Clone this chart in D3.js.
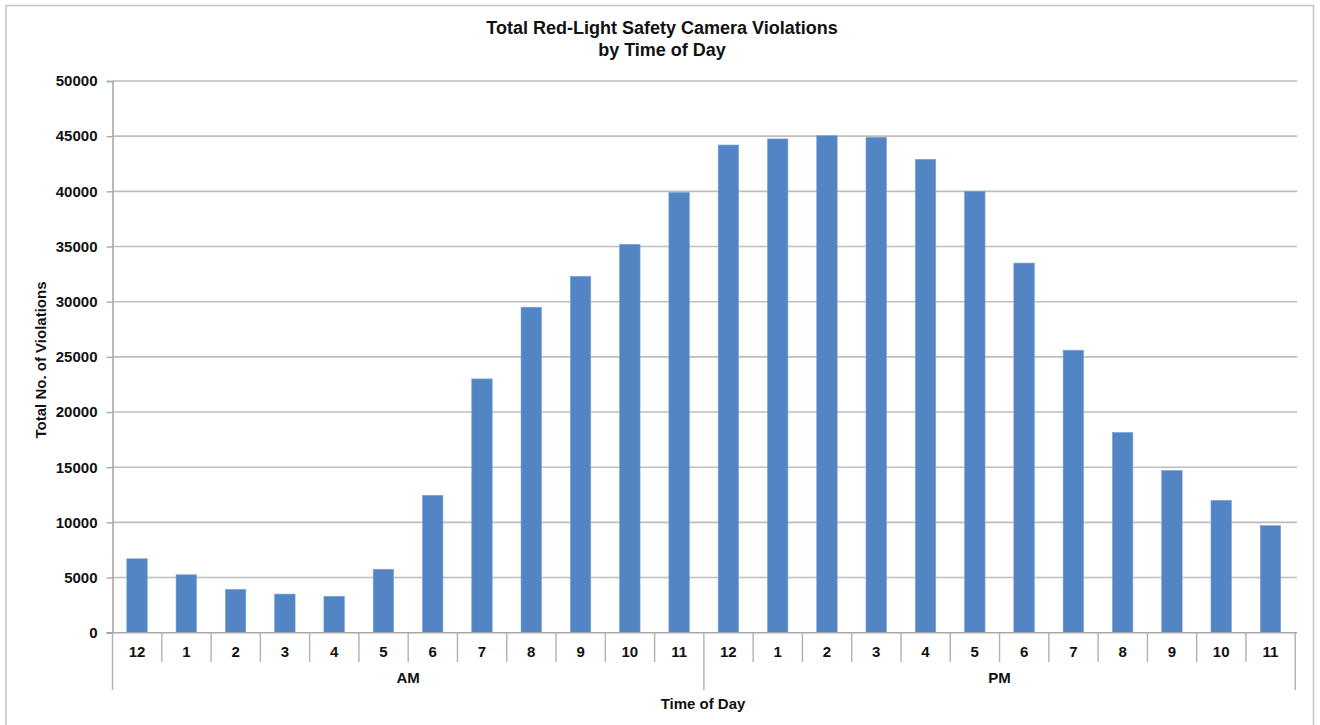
<!DOCTYPE html>
<html>
<head>
<meta charset="utf-8">
<script src="https://cdn.jsdelivr.net/npm/d3@7"></script>
<style>
  html, body { margin: 0; padding: 0; background: #fff; }
  svg { display: block; font-family: "Liberation Sans", Arial, sans-serif; }
</style>
</head>
<body>
<svg id="chart" width="1320" height="725"></svg>
<script>
const hours = ["12","1","2","3","4","5","6","7","8","9","10","11",
               "12","1","2","3","4","5","6","7","8","9","10","11"];
const periods = ["AM","PM"];
const violations = [6700, 5250, 3930, 3500, 3300, 5750, 12450, 23000, 29500, 32300, 35200, 39900,
                    44200, 44750, 45050, 44900, 42900, 40000, 33500, 25600, 18150, 14700, 12000, 9700];
const yTicks = [0, 5000, 10000, 15000, 20000, 25000, 30000, 35000, 40000, 45000, 50000];
const titleLines = ["Total Red-Light Safety Camera Violations", "by Time of Day"];
const yTitle = "Total No. of Violations";
const xTitle = "Time of Day";

(function () {
const svg = d3.select("#chart");
const pLeft = 112.5, pRight = 1295, pTop = 81, pBottom = 632.7;
const fs = 15;

// outer frame
svg.append("path")
  .attr("d", `M6,725 L6,5.5 L1313.5,5.5 L1313.5,725`)
  .attr("fill", "none").attr("stroke", "#c4c4c4").attr("stroke-width", 1.5);

const keys = d3.range(hours.length);
const x = d3.scaleBand().domain(keys).range([pLeft, pRight]).paddingInner(0.585).paddingOuter(0.29);
const y = d3.scaleLinear().domain([0, 50000]).range([pBottom, pTop]);

// gridlines
svg.append("g").selectAll("line").data(yTicks.filter(d => d > 0)).join("line")
  .attr("x1", pLeft).attr("x2", 1297)
  .attr("y1", d => y(d)).attr("y2", d => y(d))
  .attr("stroke", "#bdbdbd").attr("stroke-width", 1.6);

// y axis
const yAxis = svg.append("g").attr("transform", `translate(${pLeft},0)`)
  .call(d3.axisLeft(y).tickValues(yTicks).tickSize(6).tickPadding(9).tickFormat(d3.format("d")));
yAxis.select(".domain").attr("stroke", "#a8a8a8").attr("stroke-width", 1.6);
yAxis.selectAll(".tick line").attr("stroke", "#a8a8a8").attr("stroke-width", 1.4);
yAxis.selectAll(".tick text").attr("font-size", fs).attr("font-weight", "bold").attr("fill", "#111")
  .attr("font-family", "'Liberation Sans', Arial, sans-serif");

// bars
svg.append("g").selectAll("rect").data(violations).join("rect")
  .attr("x", (d, i) => x(i))
  .attr("width", x.bandwidth())
  .attr("y", d => y(d))
  .attr("height", d => y(0) - y(d))
  .attr("fill", "#5385c4")
  .attr("stroke", "#7aa2d4").attr("stroke-width", 0.6);

// x axis baseline
svg.append("line").attr("x1", pLeft - 6).attr("x2", 1297)
  .attr("y1", pBottom).attr("y2", pBottom)
  .attr("stroke", "#a8a8a8").attr("stroke-width", 1.6);

// category separators
const step = x.step();
const x0 = x(0) - x.paddingOuter() * step;
const sepIdx = d3.range(hours.length + 1);
svg.append("g").selectAll("line").data(sepIdx).join("line")
  .attr("x1", i => x0 + i * step).attr("x2", i => x0 + i * step)
  .attr("y1", pBottom)
  .attr("y2", i => (i === 0 || i === 12 || i === 24) ? 690 : 662)
  .attr("stroke", "#b0b0b0").attr("stroke-width", 1.4);

// hour labels
svg.append("g").selectAll("text").data(hours).join("text")
  .attr("x", (d, i) => x(i) + x.bandwidth() / 2)
  .attr("y", 656.5)
  .attr("text-anchor", "middle")
  .attr("font-size", fs).attr("font-weight", "bold").attr("fill", "#111")
  .text(d => d);

// period labels
svg.append("g").selectAll("text").data(periods).join("text")
  .attr("x", (d, i) => x0 + (i * 12 + 6) * step)
  .attr("y", 682.5)
  .attr("text-anchor", "middle")
  .attr("font-size", fs).attr("font-weight", "bold").attr("fill", "#111")
  .text(d => d);

// x title
svg.append("text").attr("x", 703).attr("y", 708.5)
  .attr("text-anchor", "middle").attr("font-size", fs).attr("font-weight", "bold").attr("fill", "#111")
  .text(xTitle);

// y title
svg.append("text")
  .attr("transform", "translate(45.5,360) rotate(-90)")
  .attr("text-anchor", "middle").attr("font-size", fs).attr("font-weight", "bold").attr("fill", "#111")
  .text(yTitle);

// title
svg.append("g").selectAll("text").data(titleLines).join("text")
  .attr("x", 662).attr("y", (d, i) => 34 + i * 21.5)
  .attr("text-anchor", "middle").attr("font-size", 18).attr("font-weight", "bold").attr("fill", "#111")
  .text(d => d);
})();
</script>
</body>
</html>
